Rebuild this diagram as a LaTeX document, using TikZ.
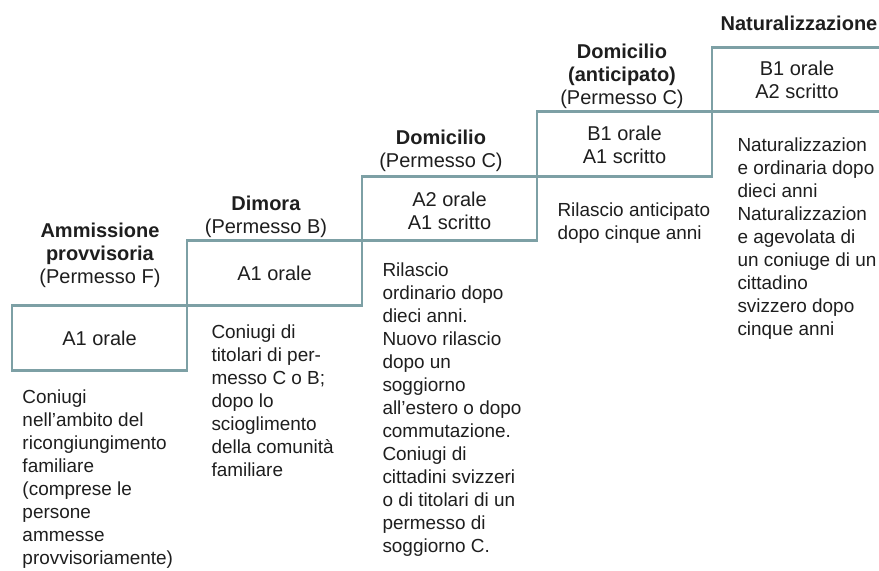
\documentclass[tikz,border=0pt]{standalone}
\usepackage{fontspec}
\setmainfont{Liberation Sans}
\definecolor{treppe}{RGB}{125,160,165}
\definecolor{schrift}{RGB}{30,30,30}

\tikzset{every picture/.style={line width=0.75pt}}
\tikzset{
	stufe/.style={draw=treppe, line width=2.2pt},
	kopf/.style={align=center, inner sep=0pt, text=schrift, font=\fontsize{15}{17.25}\selectfont},
	fuss/.style={anchor=north west, align=left, inner sep=0pt, text=schrift, font=\fontsize{14.2}{17.25}\selectfont}
}

\begin{document}
\begin{tikzpicture}[x=0.75pt,y=0.75pt,yscale=-1,xscale=1]
		\clip (0,0) rectangle (879,571); %set diagram to 879 x 571

		%Shape: Rectangle [Ammissione provvisoria]
		\draw [stufe] (12,305.5) rectangle (187,370.1) ;
		%Shape: Rectangle [Dimora]
		\draw [stufe] (187,240.9) rectangle (362,305.5) ;
		%Shape: Rectangle [Domicilio]
		\draw [stufe] (362,176.3) rectangle (537,240.9) ;
		%Shape: Rectangle [Domicilio anticipato]
		\draw [stufe] (537,111.7) rectangle (712,176.3) ;
		%Shape: Rectangle [Naturalizzazione], right side left open
		\draw [stufe] (712,47.1) rectangle (887,111.7) ;

		% Text Node
		\node [kopf] (k1) at (100,255) {\textbf{Ammissione}\\\textbf{provvisoria}\\(Permesso F)};
		% Text Node
		\node [kopf] (k2) at (266,216.5) {\textbf{Dimora}\\(Permesso B)};
		% Text Node
		\node [kopf] (k3) at (441,150.5) {\textbf{Domicilio}\\(Permesso C)};
		% Text Node
		\node [kopf] (k4) at (622,76) {\textbf{Domicilio}\\\textbf{(anticipato)}\\(Permesso C)};
		% Text Node
		\node [kopf] (k5) at (799,23) {\textbf{Naturalizzazione}};

		% Text Node
		\node [kopf] (s1) at (99.5,338) {A1 orale};
		% Text Node
		\node [kopf] (s2) at (274.5,273) {A1 orale};
		% Text Node
		\node [kopf] (s3) at (449.5,210.5) {A2 orale\\A1 scritto};
		% Text Node
		\node [kopf] (s4) at (624.5,145) {B1 orale\\A1 scritto};
		% Text Node
		\node [kopf] (s5) at (797,80) {B1 orale\\A2 scritto};

		% Text Node
		\node [fuss] (t1) at (22,389.5) {Coniugi\\nell’ambito del\\ricongiungimento\\familiare\\(comprese le\\persone\\ammesse\\provvisoriamente)};
		% Text Node
		\node [fuss] (t2) at (211,324.5) {Coniugi di\\titolari di per-\\messo C o B;\\dopo lo\\scioglimento\\della comunità\\familiare};
		% Text Node
		\node [fuss] (t3) at (382,262.5) {Rilascio\\ordinario dopo\\dieci anni.\\Nuovo rilascio\\dopo un\\soggiorno\\all’estero o dopo\\commutazione.\\Coniugi di\\cittadini svizzeri\\o di titolari di un\\permesso di\\soggiorno C.};
		% Text Node
		\node [fuss] (t4) at (557,202.5) {Rilascio anticipato\\dopo cinque anni};
		% Text Node
		\node [fuss] (t5) at (737,137.5) {Naturalizzazion\\e ordinaria dopo\\dieci anni\\Naturalizzazion\\e agevolata di\\un coniuge di un\\cittadino\\svizzero dopo\\cinque anni};

	\end{tikzpicture}
\end{document}
